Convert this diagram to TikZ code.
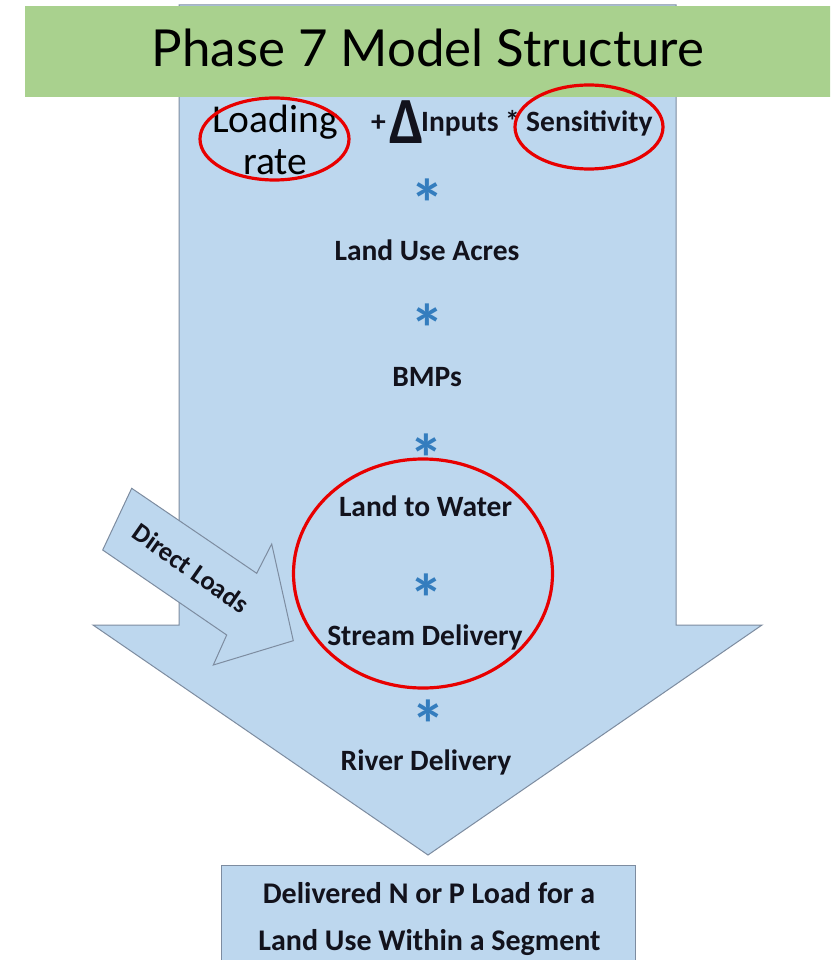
\documentclass[tikz,border=0pt]{standalone}
\usepackage{fontspec}
\setmainfont{Carlito}
\newfontfamily\titlefont{Lato}

\definecolor{arrowfill}{RGB}{189,215,238}
\definecolor{arrowline}{RGB}{125,140,160}
\definecolor{bandgreen}{RGB}{169,209,142}
\definecolor{starblue}{RGB}{52,125,190}
\definecolor{ringred}{RGB}{232,0,0}
\definecolor{inkdark}{RGB}{18,18,28}

\tikzset{
  outline/.style={fill=arrowfill, draw=arrowline, line width=1pt, line join=miter},
  lbl/.style={font=\fontsize{29.5}{31}\selectfont\bfseries, text=inkdark, inner sep=0pt, anchor=base},
  lblw/.style={lbl, anchor=base west},
  plain/.style={font=\fontsize{39.5}{40}\selectfont, text=black, inner sep=0pt, anchor=base},
  starsign/.style={font=\fontsize{68}{68}\selectfont\bfseries, text=starblue, inner sep=0pt},
  ring/.style={draw=ringred, line width=3.2pt},
}

\begin{document}
\begin{tikzpicture}[x=1pt,y=-1pt]
\useasboundingbox (0,0) rectangle (830,960);
\clip (0,0) rectangle (830,960);
\fill[white] (0,0) rectangle (830,960);

% main downward block arrow
\draw[outline] (179,5) -- (676,5) -- (676,625) -- (762,625) -- (428,855)
  -- (93,625) -- (179,625) -- cycle;

% result box at the foot of the arrow
\draw[outline] (221,865) rectangle (635,980);

% side arrow for direct loads
\draw[outline] (131.7,488.3) -- (256.7,573.3) -- (271.7,544) -- (293.3,640.7)
  -- (213.3,665) -- (226.7,635) -- (102.7,550) -- cycle;
\node[font=\fontsize{26.5}{26.5}\selectfont\bfseries, text=inkdark, inner sep=0pt, rotate=-35]
  (direct) at (191,568) {Direct Loads};

% title band
\fill[bandgreen] (25,6) rectangle (840,97);
\node[font=\titlefont\fontsize{51}{51}\selectfont, inner sep=0pt, anchor=base]
  (title) at (428,66.5) {Phase 7 Model Structure};

% first row of the formula
\node[plain] (loading) at (275,133) {Loading};
\node[plain] (rate) at (275,175) {rate};
\node[lblw] (plus) at (371,132) {+};
\node[lblw, font=\fontsize{60}{60}\selectfont\bfseries, yscale=1.1] (delta) at (389,144) {Δ};
\node[lblw] (inputs) at (421,132) {Inputs};
\node[lblw] (times) at (505,132) {*};
\node[lblw] (sens) at (526,132) {Sensitivity};

% factors down the arrow (glyph sits high in its box, so nodes are set lower)
\node[starsign] (s1) at (427,203.5) {*};
\node[lbl] (acres) at (427,260) {Land Use Acres};
\node[starsign] (s2) at (427,328.5) {*};
\node[lbl] (bmps) at (427,386.7) {BMPs};
\node[starsign] (s3) at (426,458) {*};
\node[lbl] (ltow) at (425.5,516.7) {Land to Water};
\node[starsign] (s4) at (426,598.5) {*};
\node[lbl] (stream) at (425,645) {Stream Delivery};
\node[starsign] (s5) at (428,724.5) {*};
\node[lbl] (river) at (426,770) {River Delivery};

\node[lbl, font=\fontsize{30}{31}\selectfont\bfseries] (resultA) at (429,903) {Delivered N or P Load for a};
\node[lbl, font=\fontsize{30}{31}\selectfont\bfseries] (resultB) at (429.5,950) {Land Use Within a Segment};

% highlight rings
\draw[ring] (274.5,139) ellipse [x radius=74.5pt, y radius=41pt];
\draw[ring] (589,127) ellipse [x radius=74pt, y radius=42pt];
\draw[ring] (423,573.5) ellipse [x radius=129.5pt, y radius=114.5pt];
\end{tikzpicture}
\end{document}
